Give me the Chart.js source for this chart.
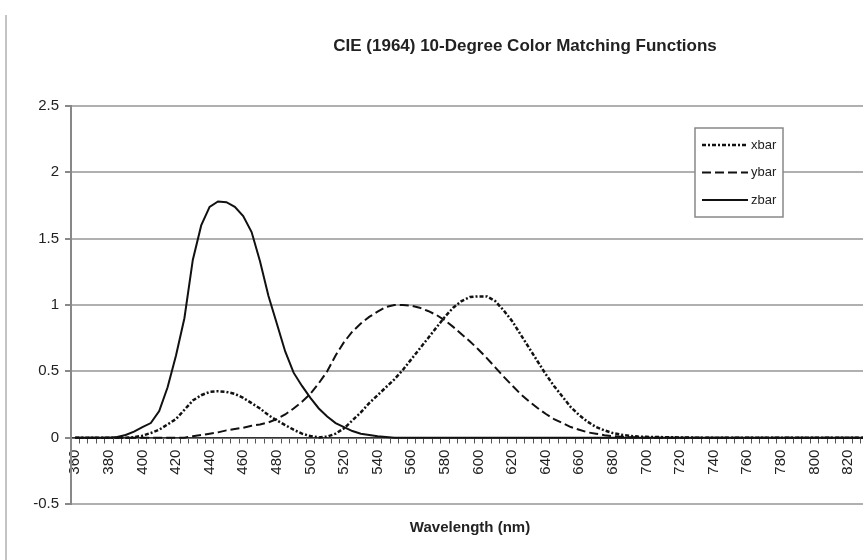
<!DOCTYPE html>
<html>
<head>
<meta charset="utf-8">
<title>CIE (1964) 10-Degree Color Matching Functions</title>
<script src="https://cdn.jsdelivr.net/npm/chart.js@4.4.1/dist/chart.umd.min.js"></script>
<style>
    html, body { margin: 0; padding: 0; background: #fff; }
    #wrap { width: 863px; height: 560px; overflow: hidden; position: relative; }
    #chart { display: block; }
</style>
</head>
<body>
<div id="wrap"><canvas id="chart" width="1050" height="560"></canvas></div>
<script>
// wavelengths (nm), one category every 5 nm
const wavelengths = [
    360, 365, 370, 375, 380, 385, 390, 395, 400, 405, 410, 415, 420, 425, 430, 435,
    440, 445, 450, 455, 460, 465, 470, 475, 480, 485, 490, 495, 500, 505, 510, 515,
    520, 525, 530, 535, 540, 545, 550, 555, 560, 565, 570, 575, 580, 585, 590, 595,
    600, 605, 610, 615, 620, 625, 630, 635, 640, 645, 650, 655, 660, 665, 670, 675,
    680, 685, 690, 695, 700, 705, 710, 715, 720, 725, 730, 735, 740, 745, 750, 755,
    760, 765, 770, 775, 780, 785, 790, 795, 800, 805, 810, 815, 820, 825, 830
];

// labelled ticks on the wavelength axis
const tickLabels = [360, 380, 400, 420, 440, 460, 480, 500, 520, 540, 560, 580,
    600, 620, 640, 660, 680, 700, 720, 740, 760, 780, 800, 820];

// values
const xbar = [
    0, 0, 0, 0, 0, 0, 0, 0.003, 0.015, 0.035, 0.06, 0.1, 0.14, 0.21, 0.28, 0.32,
    0.345, 0.35, 0.345, 0.33, 0.3, 0.26, 0.22, 0.17, 0.13, 0.095, 0.06, 0.03, 0.012, 0.002, 0.008, 0.03,
    0.07, 0.13, 0.19, 0.26, 0.32, 0.38, 0.44, 0.51, 0.59, 0.67, 0.75, 0.83, 0.91, 0.98, 1.03, 1.06,
    1.065, 1.065, 1.03, 0.96, 0.88, 0.78, 0.68, 0.58, 0.48, 0.39, 0.31, 0.23, 0.17, 0.12, 0.08, 0.055,
    0.035, 0.022, 0.014, 0.008, 0.006, 0.005, 0.004, 0.003, 0.002, 0.001, 0, 0, 0, 0, 0, 0,
    0, 0, 0, 0, 0, 0, 0, 0, 0, 0, 0, 0, 0, 0, 0
];

const ybar = [
    0, 0, 0, 0, 0, 0, 0, 0, 0, 0, 0, 0, 0, 0, 0.01, 0.02,
    0.03, 0.04, 0.055, 0.065, 0.075, 0.09, 0.1, 0.115, 0.14, 0.175, 0.22, 0.27, 0.33, 0.41, 0.5, 0.62,
    0.72, 0.8, 0.86, 0.91, 0.95, 0.985, 1.0, 1.0, 0.995, 0.98, 0.955, 0.925, 0.885, 0.835, 0.78, 0.725,
    0.665, 0.6, 0.53, 0.46, 0.395, 0.33, 0.275, 0.225, 0.18, 0.14, 0.11, 0.08, 0.06, 0.04, 0.03, 0.018,
    0.012, 0.007, 0.004, 0.002, 0, 0, 0, 0, 0, 0, 0, 0, 0, 0, 0, 0,
    0, 0, 0, 0, 0, 0, 0, 0, 0, 0, 0, 0, 0, 0, 0
];

const zbar = [
    0, 0, 0, 0, 0, 0.005, 0.02, 0.045, 0.08, 0.11, 0.2, 0.38, 0.62, 0.9, 1.34, 1.6,
    1.74, 1.78, 1.775, 1.74, 1.67, 1.55, 1.33, 1.07, 0.86, 0.65, 0.49, 0.39, 0.3, 0.22, 0.16, 0.11,
    0.08, 0.05, 0.03, 0.02, 0.01, 0.005, 0, 0, 0, 0, 0, 0, 0, 0, 0, 0,
    0, 0, 0, 0, 0, 0, 0, 0, 0, 0, 0, 0, 0, 0, 0, 0,
    0, 0, 0, 0, 0, 0, 0, 0, 0, 0, 0, 0, 0, 0, 0, 0,
    0, 0, 0, 0, 0, 0, 0, 0, 0, 0, 0, 0, 0, 0, 0
];

const FONT = "'Liberation Sans', Arial, sans-serif";

// thin grey border on the left of the chart
const frameLine = {
    id: 'frameLine',
    beforeDraw(chart) {
        const ctx = chart.ctx;
        ctx.save();
        ctx.strokeStyle = '#c4c4c4';
        ctx.lineWidth = 2;
        ctx.beginPath();
        ctx.moveTo(6, 15);
        ctx.lineTo(6, chart.height);
        ctx.stroke();
        ctx.restore();
    }
};

// legend box drawn inside the plot
const insideLegend = {
    id: 'insideLegend',
    afterDatasetsDraw(chart, args, opts) {
        const ctx = chart.ctx;
        ctx.save();
        ctx.fillStyle = '#fff';
        ctx.fillRect(opts.x, opts.y, opts.width, opts.height);
        ctx.strokeStyle = '#888';
        ctx.lineWidth = 1.5;
        ctx.strokeRect(opts.x, opts.y, opts.width, opts.height);
        chart.data.datasets.forEach((ds, i) => {
            const y = opts.y + opts.firstRow + i * opts.rowGap;
            ctx.beginPath();
            ctx.setLineDash(ds.borderDash || []);
            ctx.strokeStyle = ds.borderColor;
            ctx.lineWidth = ds.borderWidth;
            ctx.moveTo(opts.x + 7, y);
            ctx.lineTo(opts.x + 53, y);
            ctx.stroke();
            ctx.setLineDash([]);
            ctx.fillStyle = '#222';
            ctx.font = '13px ' + FONT;
            ctx.textBaseline = 'middle';
            ctx.fillText(ds.label, opts.x + 56, y);
        });
        ctx.restore();
    }
};

new Chart(document.getElementById('chart'), {
    type: 'line',
    data: {
        labels: wavelengths,
        datasets: [{
            label: 'xbar',
            data: xbar,
            borderColor: '#111',
            borderWidth: 2.5,
            borderDash: [4, 2, 2, 2],
            pointRadius: 0,
            tension: 0,
            fill: false
        }, {
            label: 'ybar',
            data: ybar,
            borderColor: '#111',
            borderWidth: 2,
            borderDash: [9, 4],
            pointRadius: 0,
            tension: 0,
            fill: false
        }, {
            label: 'zbar',
            data: zbar,
            borderColor: '#111',
            borderWidth: 2,
            pointRadius: 0,
            tension: 0,
            fill: false
        }]
    },
    options: {
        responsive: false,
        animation: false,
        devicePixelRatio: 1,
        layout: { padding: 0 },
        plugins: {
            legend: { display: false },
            tooltip: { enabled: false },
            title: {
                display: true,
                text: 'CIE (1964) 10-Degree Color Matching Functions',
                color: '#222',
                font: { family: FONT, size: 17, weight: 'bold' },
                padding: { top: 36, bottom: 49.6 }
            },
            insideLegend: { x: 695, y: 128, width: 88, height: 89, firstRow: 17, rowGap: 27.5 }
        },
        scales: {
            x: {
                type: 'category',
                position: { y: 0 },
                offset: true,
                grid: {
                    offset: true,
                    drawOnChartArea: false,
                    drawTicks: true,
                    tickLength: 5,
                    tickColor: '#555',
                    lineWidth: 1
                },
                border: { color: '#333', width: 1.5 },
                ticks: {
                    autoSkip: false,
                    minRotation: 90,
                    maxRotation: 90,
                    padding: 7,
                    color: '#222',
                    font: { family: FONT, size: 15 },
                    callback: function(value) {
                        const l = Number(this.getLabelForValue(value));
                        return tickLabels.includes(l) ? String(l) : '';
                    }
                },
                afterFit: s => { s.height = 0; s.paddingLeft = 0; s.paddingRight = 0; }
            },
            xTitle: {
                type: 'linear',
                axis: 'x',
                position: 'bottom',
                ticks: { display: false },
                grid: { display: false },
                border: { display: false },
                title: {
                    display: true,
                    text: 'Wavelength (nm)',
                    color: '#222',
                    font: { family: FONT, size: 15, weight: 'bold' },
                    padding: { top: 0, bottom: 23 }
                },
                afterFit: s => { s.height = 56; }
            },
            y: {
                min: -0.5,
                max: 2.5,
                ticks: {
                    stepSize: 0.5,
                    padding: 6,
                    color: '#222',
                    font: { family: FONT, size: 15 },
                    callback: v => String(Math.round(v * 10) / 10)
                },
                grid: { color: '#b0b0b0', lineWidth: 2, tickLength: 6, tickColor: '#888' },
                border: { color: '#888', width: 2 },
                afterFit: s => { s.width = 71; }
            },
            yPad: {
                type: 'linear',
                axis: 'y',
                position: 'right',
                ticks: { display: false },
                grid: { display: false },
                border: { display: false },
                afterFit: s => { s.width = 181; }
            }
        }
    },
    plugins: [frameLine, insideLegend]
});
</script>
</body>
</html>
